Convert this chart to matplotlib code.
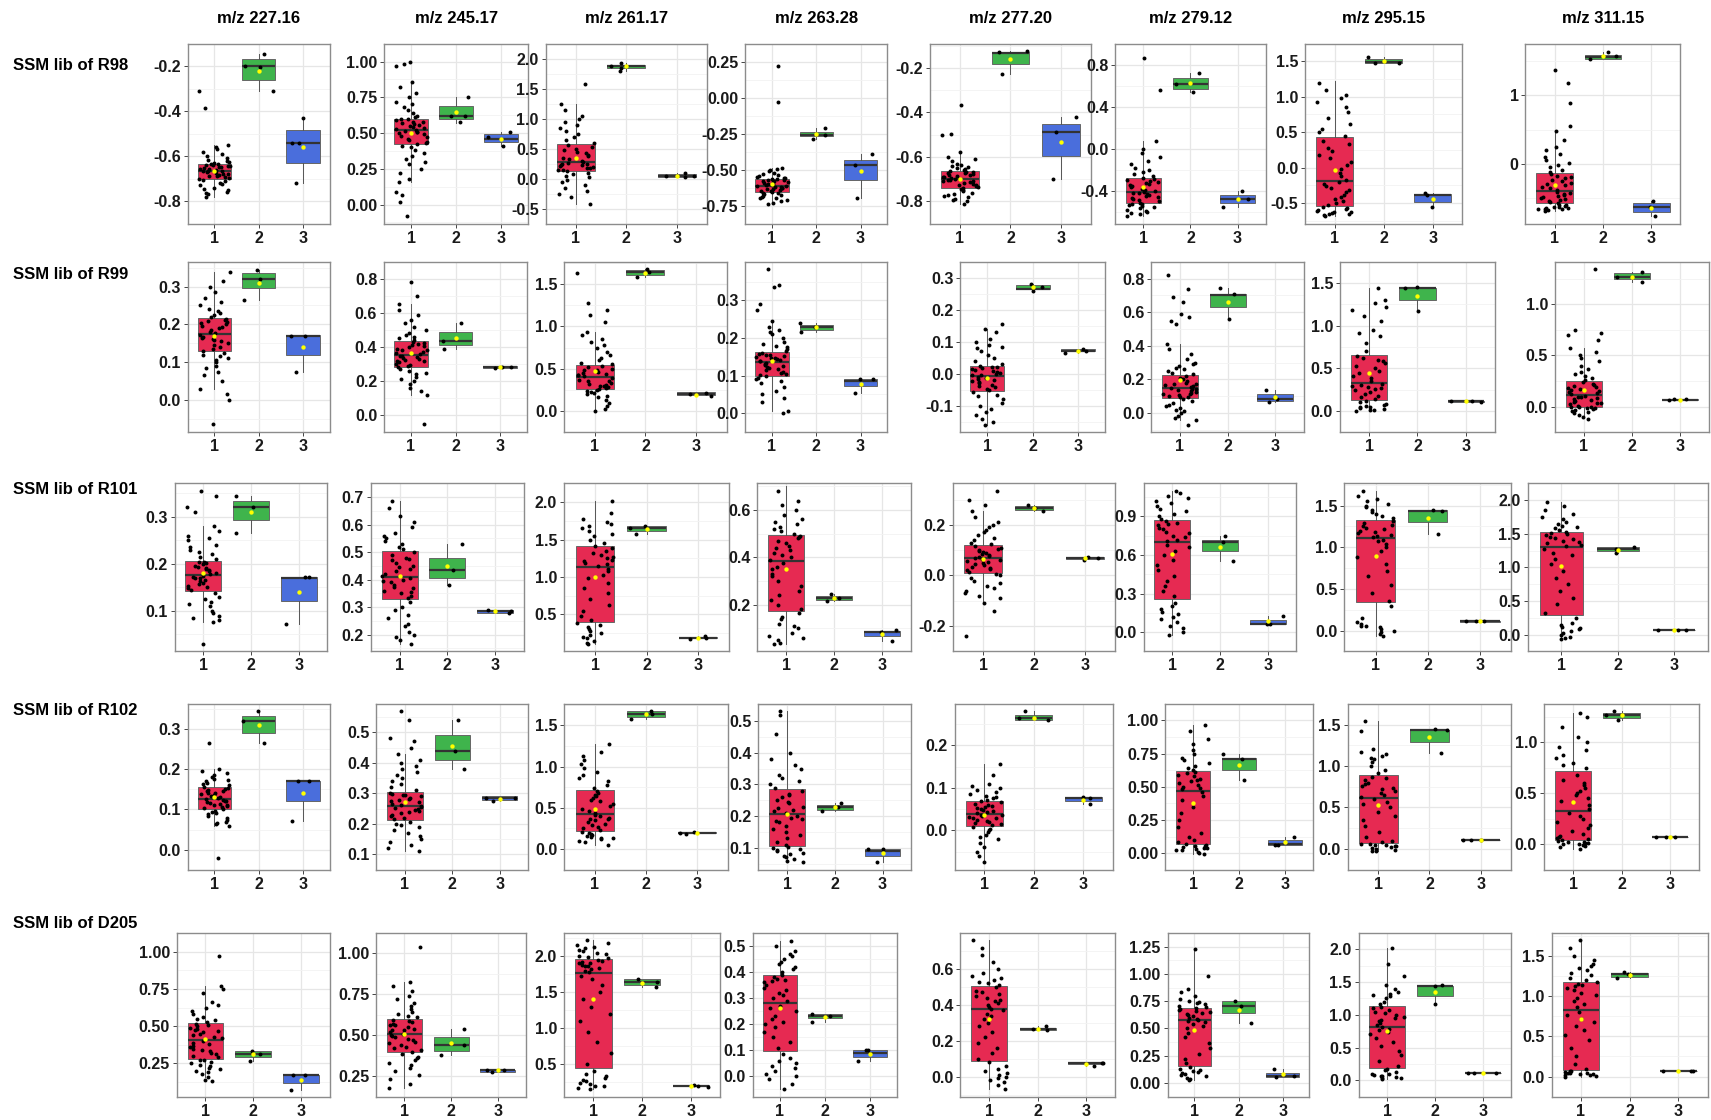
import numpy as np
import matplotlib
matplotlib.use("Agg")
import matplotlib.pyplot as plt

plt.rcParams['font.family'] = ['Liberation Sans Narrow', 'Liberation Sans', 'DejaVu Sans']

mz_labels = ["m/z 227.16", "m/z 245.17", "m/z 261.17", "m/z 263.28",
             "m/z 277.20", "m/z 279.12", "m/z 295.15", "m/z 311.15"]
libraries = ["SSM lib of R98", "SSM lib of R99", "SSM lib of R101", "SSM lib of R102", "SSM lib of D205"]
groups = [1, 2, 3]
fills = ['#E62A52', '#3FB44C', '#4A6EDC']

# ---- SSM lib of R98 ----
r98_g1 = [
    [-0.78, -0.77, -0.765, -0.76, -0.75, -0.745, -0.74, -0.73, -0.725, -0.72, -0.71, -0.705,
     -0.70, -0.697, -0.693, -0.69, -0.686, -0.683, -0.68, -0.677, -0.673, -0.67, -0.668, -0.666,
     -0.664, -0.66, -0.657, -0.655, -0.652, -0.65, -0.648, -0.645, -0.643, -0.64, -0.638, -0.636,
     -0.634, -0.63, -0.625, -0.62, -0.615, -0.61, -0.60, -0.59, -0.58, -0.57, -0.56, -0.55, -0.385, -0.31],
    [0.16, 0.18, 0.22, 0.25, 0.28, 0.30, 0.32, 0.34, 0.36, 0.38, 0.40, 0.41,
     0.42, 0.43, 0.44, 0.45, 0.46, 0.47, 0.48, 0.49, 0.50, 0.505, 0.51, 0.515,
     0.52, 0.53, 0.535, 0.54, 0.55, 0.555, 0.56, 0.57, 0.575, 0.58, 0.59, 0.595,
     0.60, 0.61, 0.62, 0.64, 0.66, 0.68, 0.70, 0.72, 0.75, 0.78, 0.82, 0.86,
     -0.08, 0.02, 0.07, 0.09, 0.97, 0.98, 1.0],
    [-0.42, -0.30, -0.25, -0.20, -0.15, -0.10, -0.05, -0.02, 0.02, 0.05, 0.08, 0.10,
     0.12, 0.14, 0.15, 0.17, 0.18, 0.20, 0.21, 0.22, 0.23, 0.24, 0.25, 0.26,
     0.28, 0.30, 0.32, 0.35, 0.38, 0.40, 0.43, 0.45, 0.48, 0.50, 0.53, 0.56,
     0.60, 0.65, 0.70, 0.75, 0.80, 0.85, 0.90, 0.95, 1.00, 1.05, 1.15, 1.25, 1.58],
    [-0.74, -0.73, -0.72, -0.71, -0.70, -0.695, -0.69, -0.68, -0.675, -0.67, -0.665, -0.66,
     -0.655, -0.65, -0.645, -0.64, -0.636, -0.632, -0.628, -0.624, -0.62, -0.617, -0.614, -0.612,
     -0.608, -0.605, -0.60, -0.596, -0.592, -0.588, -0.584, -0.58, -0.576, -0.572, -0.57, -0.567,
     -0.565, -0.56, -0.555, -0.55, -0.545, -0.54, -0.53, -0.52, -0.51, -0.50, -0.495, -0.49, -0.03, 0.22],
    [-0.81, -0.80, -0.795, -0.79, -0.78, -0.775, -0.77, -0.765, -0.76, -0.755, -0.75, -0.745,
     -0.74, -0.735, -0.73, -0.727, -0.724, -0.72, -0.717, -0.714, -0.71, -0.707, -0.704, -0.702,
     -0.698, -0.695, -0.692, -0.689, -0.686, -0.683, -0.68, -0.677, -0.674, -0.671, -0.668, -0.666,
     -0.664, -0.66, -0.655, -0.65, -0.645, -0.64, -0.635, -0.63, -0.62, -0.61, -0.60, -0.58,
     -0.50, -0.495, -0.365],
    [-0.64, -0.62, -0.61, -0.60, -0.59, -0.58, -0.57, -0.56, -0.55, -0.54, -0.53, -0.525,
     -0.515, -0.50, -0.49, -0.48, -0.47, -0.46, -0.45, -0.44, -0.43, -0.425, -0.42, -0.415,
     -0.40, -0.39, -0.38, -0.37, -0.36, -0.35, -0.34, -0.33, -0.32, -0.31, -0.30, -0.29,
     -0.275, -0.26, -0.24, -0.22, -0.20, -0.18, -0.15, -0.12, -0.08, -0.04, 0.0, 0.07, 0.56, 0.86],
    [-0.68, -0.67, -0.66, -0.65, -0.64, -0.63, -0.62, -0.61, -0.60, -0.58, -0.57, -0.55,
     -0.53, -0.50, -0.47, -0.44, -0.41, -0.38, -0.35, -0.32, -0.29, -0.26, -0.23, -0.21,
     -0.17, -0.12, -0.07, -0.02, 0.03, 0.08, 0.13, 0.18, 0.23, 0.28, 0.33, 0.38,
     0.45, 0.50, 0.55, 0.62, 0.70, 0.78, 0.85, 0.92, 0.98, 1.03, 1.10, 1.20],
    [-0.68, -0.67, -0.66, -0.655, -0.65, -0.64, -0.635, -0.63, -0.62, -0.61, -0.60, -0.59,
     -0.57, -0.555, -0.54, -0.525, -0.51, -0.495, -0.48, -0.465, -0.45, -0.435, -0.42, -0.405,
     -0.375, -0.35, -0.33, -0.31, -0.29, -0.27, -0.25, -0.23, -0.21, -0.19, -0.17, -0.15,
     -0.12, -0.09, -0.05, -0.02, 0.02, 0.05, 0.10, 0.15, 0.20, 0.25, 0.35, 0.48, 0.55, 0.89, 1.17, 1.36],
]
r98_g2 = [[-0.145, -0.20, -0.205, -0.31], [0.75, 0.62, 0.58, 0.62], [1.93, 1.87, 1.85, 1.80],
          [-0.21, -0.26, -0.29], [-0.125, -0.13, -0.225], [0.72, 0.62, 0.54],
          [1.56, 1.48, 1.48], [1.63, 1.57, 1.53]]
r98_g3 = [[-0.43, -0.54, -0.54, -0.72], [0.51, 0.47, 0.41], [0.09, 0.05, 0.02, 0.05],
          [-0.39, -0.47, -0.70], [-0.42, -0.49, -0.70], [-0.40, -0.48, -0.56],
          [-0.36, -0.39, -0.55], [-0.54, -0.63, -0.75]]
# (whisker low, Q1, median, Q3, whisker high, mean)
r98_g1_box = [(-0.78, -0.70, -0.665, -0.635, -0.55, -0.665), (0.16, 0.42, 0.52, 0.60, 0.86, 0.50),
              (-0.42, 0.12, 0.27, 0.58, 1.25, 0.35), (-0.74, -0.655, -0.61, -0.565, -0.49, -0.60),
              (-0.81, -0.74, -0.70, -0.665, -0.58, -0.70), (-0.64, -0.52, -0.41, -0.28, 0.07, -0.37),
              (-0.68, -0.54, -0.19, 0.43, 1.22, -0.035), (-0.68, -0.575, -0.39, -0.13, 0.48, -0.30)]
r98_g2_box = [(-0.31, -0.26, -0.20, -0.17, -0.145, -0.22), (0.57, 0.60, 0.62, 0.69, 0.75, 0.65),
              (1.80, 1.85, 1.87, 1.90, 1.93, 1.87), (-0.29, -0.265, -0.26, -0.24, -0.21, -0.255),
              (-0.225, -0.18, -0.135, -0.13, -0.125, -0.16), (0.54, 0.57, 0.62, 0.67, 0.72, 0.625),
              (1.47, 1.47, 1.49, 1.535, 1.56, 1.50), (1.53, 1.53, 1.56, 1.59, 1.63, 1.57)]
r98_g3_box = [(-0.72, -0.63, -0.54, -0.485, -0.43, -0.56), (0.41, 0.44, 0.46, 0.49, 0.51, 0.46),
              (0.02, 0.03, 0.05, 0.07, 0.09, 0.05), (-0.70, -0.57, -0.47, -0.43, -0.39, -0.51),
              (-0.70, -0.595, -0.49, -0.453, -0.42, -0.535), (-0.56, -0.52, -0.48, -0.44, -0.40, -0.48),
              (-0.55, -0.48, -0.39, -0.37, -0.36, -0.445), (-0.75, -0.70, -0.63, -0.575, -0.54, -0.64)]
r98_ticks = [[-0.8, -0.6, -0.4, -0.2], [0, 0.25, 0.5, 0.75, 1.0], [-0.5, 0, 0.5, 1.0, 1.5, 2.0],
             [-0.75, -0.5, -0.25, 0, 0.25], [-0.8, -0.6, -0.4, -0.2], [-0.4, 0, 0.4, 0.8],
             [-0.5, 0, 0.5, 1.0, 1.5], [0, 1]]

# ---- SSM lib of R99 ----
r99_g1 = [
    [0.03, 0.05, 0.065, 0.075, 0.085, 0.09, 0.10, 0.105, 0.11, 0.115, 0.12, 0.125,
     0.13, 0.135, 0.14, 0.145, 0.15, 0.155, 0.158, 0.16, 0.163, 0.166, 0.17, 0.172,
     0.178, 0.18, 0.185, 0.19, 0.193, 0.196, 0.20, 0.203, 0.206, 0.209, 0.212, 0.215,
     0.22, 0.225, 0.23, 0.235, 0.24, 0.25, 0.26, 0.27, 0.285, 0.30, 0.315, 0.34, -0.065, 0.0, 0.015],
    [0.12, 0.14, 0.16, 0.18, 0.20, 0.21, 0.225, 0.24, 0.25, 0.26, 0.27, 0.28,
     0.29, 0.295, 0.30, 0.31, 0.315, 0.32, 0.325, 0.33, 0.335, 0.34, 0.345, 0.35,
     0.36, 0.365, 0.37, 0.38, 0.385, 0.39, 0.40, 0.405, 0.41, 0.42, 0.425, 0.43,
     0.44, 0.45, 0.46, 0.47, 0.48, 0.50, 0.52, 0.54, 0.56, 0.59, 0.62, 0.65, -0.05, 0.70, 0.78],
    [0.0, 0.02, 0.06, 0.10, 0.13, 0.16, 0.18, 0.20, 0.21, 0.22, 0.235, 0.245,
     0.26, 0.27, 0.28, 0.29, 0.30, 0.31, 0.32, 0.33, 0.35, 0.36, 0.37, 0.39,
     0.41, 0.42, 0.43, 0.44, 0.45, 0.46, 0.47, 0.48, 0.49, 0.50, 0.52, 0.535,
     0.55, 0.57, 0.60, 0.63, 0.66, 0.70, 0.74, 0.78, 0.82, 0.85, 0.90, 0.93,
     1.05, 1.13, 1.20, 1.28, 1.63],
    [0.0, 0.007, 0.03, 0.04, 0.05, 0.06, 0.07, 0.08, 0.085, 0.09, 0.095, 0.098,
     0.102, 0.105, 0.108, 0.111, 0.114, 0.117, 0.12, 0.123, 0.126, 0.129, 0.132, 0.134,
     0.138, 0.14, 0.142, 0.144, 0.146, 0.148, 0.15, 0.152, 0.154, 0.156, 0.158, 0.16,
     0.165, 0.17, 0.175, 0.18, 0.185, 0.19, 0.20, 0.21, 0.215, 0.22, 0.23, 0.245,
     0.275, 0.29, 0.335, 0.34, 0.383],
    [-0.16, -0.15, -0.14, -0.13, -0.12, -0.11, -0.10, -0.09, -0.08, -0.07, -0.065, -0.058,
     -0.05, -0.046, -0.042, -0.038, -0.034, -0.03, -0.026, -0.022, -0.018, -0.015, -0.012, -0.009,
     -0.005, -0.002, 0.0, 0.003, 0.006, 0.009, 0.012, 0.015, 0.018, 0.02, 0.022, 0.025,
     0.03, 0.04, 0.05, 0.06, 0.07, 0.08, 0.085, 0.09, 0.10, 0.11, 0.13, 0.14, 0.155],
    [-0.045, -0.03, -0.02, 0.0, 0.01, 0.02, 0.03, 0.04, 0.05, 0.06, 0.07, 0.08,
     0.092, 0.095, 0.10, 0.105, 0.11, 0.115, 0.12, 0.125, 0.13, 0.135, 0.14, 0.145,
     0.15, 0.155, 0.16, 0.165, 0.17, 0.175, 0.18, 0.19, 0.20, 0.205, 0.21, 0.22,
     0.23, 0.24, 0.25, 0.26, 0.27, 0.28, 0.29, 0.30, 0.32, 0.35, 0.38, 0.41,
     -0.07, 0.53, 0.55, 0.57, 0.59, 0.66, 0.69, 0.74, 0.82],
    [0.0, 0.005, 0.01, 0.02, 0.03, 0.04, 0.05, 0.06, 0.07, 0.08, 0.10, 0.12,
     0.14, 0.16, 0.18, 0.20, 0.22, 0.24, 0.26, 0.27, 0.28, 0.29, 0.30, 0.32,
     0.35, 0.38, 0.41, 0.44, 0.47, 0.50, 0.53, 0.56, 0.58, 0.60, 0.62, 0.64,
     0.70, 0.80, 0.88, 0.92, 0.95, 1.05, 1.12, 1.18, 1.22, 1.27, 1.30, 1.44],
    [-0.10, -0.08, -0.06, -0.05, -0.04, -0.03, -0.02, -0.015, -0.01, -0.005, 0.0, 0.0,
     0.01, 0.02, 0.03, 0.035, 0.04, 0.05, 0.06, 0.07, 0.08, 0.09, 0.095, 0.10,
     0.12, 0.13, 0.14, 0.15, 0.16, 0.17, 0.18, 0.19, 0.20, 0.21, 0.22, 0.24,
     0.26, 0.28, 0.30, 0.32, 0.34, 0.37, 0.40, 0.44, 0.47, 0.50, 0.53, 0.57,
     -0.12, 0.65, 0.70, 0.72, 0.75, 1.34],
]
r99_g2 = [[0.345, 0.32, 0.265], [0.54, 0.435, 0.39], [1.68, 1.64, 1.58], [0.24, 0.228, 0.215],
          [0.28, 0.27, 0.26], [0.745, 0.71, 0.56], [1.45, 1.44, 1.17], [1.31, 1.27, 1.22]]
r99_g3 = [[0.17, 0.17, 0.075], [0.285, 0.28, 0.275], [0.21, 0.20, 0.18], [0.092, 0.09, 0.055],
          [0.078, 0.072, 0.065], [0.135, 0.08, 0.065], [0.12, 0.11, 0.10], [0.07, 0.065, 0.07]]
r99_g1_box = [(0.03, 0.13, 0.175, 0.217, 0.34, 0.168), (0.12, 0.285, 0.355, 0.437, 0.65, 0.367),
              (0.02, 0.255, 0.40, 0.54, 0.93, 0.47), (0.007, 0.10, 0.136, 0.162, 0.245, 0.138),
              (-0.16, -0.053, -0.007, 0.026, 0.14, -0.012), (-0.045, 0.09, 0.147, 0.225, 0.41, 0.196),
              (0.0, 0.13, 0.33, 0.66, 1.44, 0.45), (-0.10, 0.0, 0.11, 0.25, 0.57, 0.165)]
r99_g2_box = [(0.265, 0.295, 0.32, 0.337, 0.345, 0.31), (0.39, 0.41, 0.435, 0.49, 0.54, 0.455),
              (1.58, 1.605, 1.64, 1.67, 1.68, 1.635), (0.215, 0.22, 0.228, 0.235, 0.24, 0.228),
              (0.26, 0.265, 0.265, 0.278, 0.28, 0.27), (0.56, 0.63, 0.70, 0.71, 0.745, 0.66),
              (1.17, 1.305, 1.44, 1.445, 1.45, 1.35), (1.22, 1.245, 1.27, 1.30, 1.31, 1.27)]
r99_g3_box = [(0.075, 0.12, 0.17, 0.172, 0.172, 0.14), (0.275, 0.277, 0.28, 0.29, 0.29, 0.28),
              (0.18, 0.19, 0.20, 0.22, 0.22, 0.195), (0.055, 0.072, 0.085, 0.091, 0.092, 0.078),
              (0.065, 0.07, 0.072, 0.077, 0.078, 0.072), (0.065, 0.07, 0.08, 0.11, 0.135, 0.093),
              (0.10, 0.105, 0.11, 0.115, 0.12, 0.11), (0.065, 0.066, 0.068, 0.07, 0.07, 0.068)]
r99_ticks = [[0, 0.1, 0.2, 0.3], [0, 0.2, 0.4, 0.6, 0.8], [0, 0.5, 1.0, 1.5], [0, 0.1, 0.2, 0.3],
             [-0.1, 0, 0.1, 0.2, 0.3], [0, 0.2, 0.4, 0.6, 0.8], [0, 0.5, 1.0, 1.5], [0, 0.5, 1.0]]

# ---- SSM lib of R101 ----
r101_g1 = [
    [0.076, 0.08, 0.085, 0.09, 0.095, 0.10, 0.11, 0.115, 0.12, 0.125, 0.13, 0.138,
     0.145, 0.148, 0.151, 0.154, 0.157, 0.16, 0.163, 0.166, 0.169, 0.171, 0.173, 0.175,
     0.179, 0.181, 0.184, 0.186, 0.189, 0.191, 0.194, 0.196, 0.199, 0.201, 0.203, 0.205,
     0.21, 0.215, 0.22, 0.225, 0.23, 0.235, 0.24, 0.25, 0.255, 0.26, 0.27, 0.28,
     0.03, 0.31, 0.32, 0.345, 0.355],
    [0.165, 0.18, 0.19, 0.20, 0.21, 0.23, 0.24, 0.26, 0.27, 0.29, 0.30, 0.32,
     0.335, 0.34, 0.35, 0.355, 0.36, 0.37, 0.375, 0.38, 0.39, 0.395, 0.40, 0.405,
     0.415, 0.42, 0.43, 0.44, 0.445, 0.45, 0.46, 0.47, 0.475, 0.48, 0.49, 0.50,
     0.51, 0.52, 0.53, 0.54, 0.55, 0.56, 0.57, 0.59, 0.61, 0.63, 0.66, 0.685],
    [0.10, 0.12, 0.15, 0.18, 0.20, 0.22, 0.25, 0.28, 0.30, 0.33, 0.36, 0.38,
     0.42, 0.48, 0.55, 0.62, 0.70, 0.78, 0.85, 0.92, 0.98, 1.03, 1.08, 1.11,
     1.15, 1.17, 1.19, 1.21, 1.23, 1.25, 1.27, 1.29, 1.32, 1.35, 1.38, 1.41,
     1.45, 1.50, 1.55, 1.58, 1.62, 1.65, 1.68, 1.71, 1.74, 1.77, 1.85, 2.02],
    [0.035, 0.04, 0.05, 0.06, 0.07, 0.08, 0.10, 0.11, 0.12, 0.14, 0.15, 0.165,
     0.18, 0.20, 0.22, 0.24, 0.26, 0.28, 0.30, 0.32, 0.33, 0.35, 0.36, 0.375,
     0.39, 0.40, 0.41, 0.42, 0.43, 0.44, 0.45, 0.46, 0.47, 0.48, 0.485, 0.49,
     0.50, 0.51, 0.52, 0.53, 0.54, 0.55, 0.56, 0.58, 0.60, 0.62, 0.64, 0.68],
    [-0.11, -0.09, -0.08, -0.07, -0.06, -0.05, -0.04, -0.03, -0.02, -0.01, 0.0, 0.005,
     0.015, 0.02, 0.025, 0.03, 0.035, 0.04, 0.045, 0.05, 0.055, 0.058, 0.062, 0.065,
     0.07, 0.074, 0.078, 0.082, 0.086, 0.09, 0.094, 0.098, 0.102, 0.106, 0.11, 0.115,
     0.125, 0.13, 0.14, 0.15, 0.16, 0.17, 0.18, 0.19, 0.20, 0.21, 0.23, 0.255,
     -0.24, -0.14, 0.28, 0.30, 0.335],
    [-0.02, 0.0, 0.03, 0.05, 0.08, 0.10, 0.12, 0.14, 0.16, 0.18, 0.20, 0.23,
     0.28, 0.32, 0.36, 0.40, 0.44, 0.48, 0.52, 0.56, 0.60, 0.63, 0.66, 0.68,
     0.71, 0.72, 0.74, 0.75, 0.77, 0.78, 0.80, 0.81, 0.83, 0.84, 0.85, 0.86,
     0.88, 0.90, 0.92, 0.94, 0.96, 0.98, 1.00, 1.02, 1.04, 1.06, 1.08, 1.10],
    [-0.06, -0.04, -0.02, 0.0, 0.02, 0.04, 0.05, 0.06, 0.08, 0.10, 0.15, 0.30,
     0.35, 0.45, 0.55, 0.65, 0.72, 0.80, 0.88, 0.95, 1.00, 1.04, 1.07, 1.09,
     1.12, 1.14, 1.15, 1.17, 1.18, 1.20, 1.22, 1.23, 1.25, 1.27, 1.29, 1.31,
     1.35, 1.38, 1.40, 1.42, 1.45, 1.48, 1.50, 1.52, 1.55, 1.58, 1.62, 1.68],
    [-0.07, -0.05, -0.03, 0.0, 0.02, 0.05, 0.08, 0.10, 0.12, 0.14, 0.18, 0.25,
     0.32, 0.45, 0.55, 0.65, 0.75, 0.85, 0.95, 1.05, 1.12, 1.18, 1.22, 1.27,
     1.32, 1.34, 1.36, 1.38, 1.40, 1.42, 1.44, 1.46, 1.48, 1.50, 1.51, 1.52,
     1.55, 1.58, 1.60, 1.62, 1.65, 1.68, 1.72, 1.75, 1.80, 1.85, 1.92, 1.98],
]
r101_g2 = [[0.345, 0.32, 0.265], [0.53, 0.435, 0.38], [1.68, 1.65, 1.57], [0.245, 0.23, 0.215],
           [0.28, 0.265, 0.255], [0.75, 0.70, 0.55], [1.45, 1.44, 1.16], [1.30, 1.27, 1.21]]
r101_g3 = [[0.172, 0.172, 0.072], [0.29, 0.285, 0.28], [0.21, 0.19, 0.17], [0.095, 0.085, 0.045],
           [0.075, 0.07, 0.06], [0.125, 0.065, 0.06], [0.11, 0.11, 0.11], [0.07, 0.07, 0.07]]
r101_g1_box = [(0.076, 0.143, 0.177, 0.207, 0.28, 0.18), (0.165, 0.33, 0.41, 0.505, 0.685, 0.415),
               (0.10, 0.40, 1.13, 1.42, 2.02, 1.0), (0.035, 0.175, 0.385, 0.495, 0.70, 0.35),
               (-0.11, 0.01, 0.068, 0.12, 0.255, 0.064), (-0.02, 0.26, 0.70, 0.87, 1.10, 0.61),
               (-0.06, 0.34, 1.11, 1.33, 1.68, 0.90), (-0.07, 0.29, 1.30, 1.53, 1.98, 1.02)]
r101_g2_box = [(0.265, 0.293, 0.32, 0.333, 0.345, 0.31), (0.38, 0.405, 0.435, 0.48, 0.53, 0.45),
               (1.57, 1.62, 1.65, 1.68, 1.68, 1.64), (0.215, 0.22, 0.228, 0.235, 0.245, 0.23),
               (0.255, 0.26, 0.265, 0.275, 0.28, 0.265), (0.55, 0.63, 0.70, 0.72, 0.75, 0.665),
               (1.16, 1.30, 1.44, 1.445, 1.45, 1.35), (1.21, 1.25, 1.27, 1.30, 1.30, 1.26)]
r101_g3_box = [(0.072, 0.122, 0.17, 0.172, 0.172, 0.14), (0.28, 0.28, 0.285, 0.29, 0.29, 0.285),
               (0.17, 0.18, 0.19, 0.20, 0.21, 0.19), (0.045, 0.066, 0.085, 0.09, 0.095, 0.077),
               (0.06, 0.065, 0.07, 0.075, 0.075, 0.07), (0.06, 0.062, 0.065, 0.095, 0.125, 0.085),
               (0.11, 0.107, 0.11, 0.113, 0.11, 0.11), (0.07, 0.067, 0.07, 0.073, 0.07, 0.07)]
r101_ticks = [[0.1, 0.2, 0.3], [0.2, 0.3, 0.4, 0.5, 0.6, 0.7], [0.5, 1.0, 1.5, 2.0], [0.2, 0.4, 0.6],
              [-0.2, 0, 0.2], [0, 0.3, 0.6, 0.9], [0, 0.5, 1.0, 1.5], [0, 0.5, 1.0, 1.5, 2.0]]

# ---- SSM lib of R102 ----
r102_g1 = [
    [0.06, 0.063, 0.066, 0.07, 0.075, 0.08, 0.085, 0.088, 0.091, 0.094, 0.097, 0.10,
     0.104, 0.106, 0.108, 0.11, 0.112, 0.114, 0.116, 0.118, 0.12, 0.122, 0.124, 0.126,
     0.129, 0.131, 0.133, 0.136, 0.138, 0.14, 0.142, 0.145, 0.147, 0.149, 0.151, 0.153,
     0.157, 0.16, 0.163, 0.166, 0.17, 0.173, 0.176, 0.18, 0.185, 0.19, 0.195, 0.20, -0.02, 0.265],
    [0.11, 0.12, 0.13, 0.14, 0.15, 0.16, 0.17, 0.18, 0.19, 0.195, 0.20, 0.205,
     0.215, 0.22, 0.225, 0.23, 0.235, 0.238, 0.241, 0.245, 0.248, 0.251, 0.254, 0.257,
     0.263, 0.266, 0.27, 0.274, 0.278, 0.282, 0.286, 0.29, 0.293, 0.296, 0.299, 0.302,
     0.31, 0.32, 0.33, 0.34, 0.35, 0.36, 0.37, 0.38, 0.39, 0.40, 0.41, 0.43,
     0.45, 0.47, 0.48, 0.54, 0.57],
    [0.05, 0.08, 0.10, 0.12, 0.13, 0.14, 0.15, 0.16, 0.17, 0.18, 0.19, 0.21,
     0.23, 0.25, 0.27, 0.29, 0.31, 0.33, 0.35, 0.36, 0.37, 0.38, 0.40, 0.41,
     0.44, 0.46, 0.49, 0.52, 0.55, 0.58, 0.60, 0.62, 0.64, 0.66, 0.68, 0.70,
     0.74, 0.78, 0.82, 0.86, 0.90, 0.94, 0.98, 1.03, 1.08, 1.13, 1.18, 1.27],
    [0.055, 0.06, 0.065, 0.07, 0.075, 0.08, 0.085, 0.09, 0.093, 0.096, 0.10, 0.104,
     0.11, 0.12, 0.13, 0.14, 0.15, 0.16, 0.17, 0.18, 0.185, 0.19, 0.195, 0.20,
     0.21, 0.215, 0.22, 0.225, 0.23, 0.24, 0.245, 0.25, 0.26, 0.265, 0.27, 0.28,
     0.29, 0.30, 0.31, 0.32, 0.33, 0.35, 0.36, 0.38, 0.40, 0.46, 0.52, 0.53],
    [-0.075, -0.06, -0.05, -0.04, -0.03, -0.02, -0.015, -0.01, -0.005, 0.0, 0.004, 0.008,
     0.012, 0.015, 0.018, 0.02, 0.023, 0.025, 0.028, 0.03, 0.032, 0.034, 0.036, 0.037,
     0.04, 0.042, 0.045, 0.047, 0.05, 0.052, 0.055, 0.057, 0.06, 0.063, 0.066, 0.068,
     0.072, 0.075, 0.078, 0.08, 0.085, 0.09, 0.095, 0.10, 0.105, 0.11, 0.13, 0.155],
    [-0.01, 0.0, 0.01, 0.02, 0.025, 0.03, 0.035, 0.04, 0.045, 0.05, 0.055, 0.06,
     0.07, 0.08, 0.10, 0.12, 0.15, 0.20, 0.25, 0.30, 0.35, 0.40, 0.43, 0.46,
     0.48, 0.49, 0.50, 0.51, 0.53, 0.54, 0.55, 0.56, 0.58, 0.59, 0.60, 0.61,
     0.63, 0.64, 0.66, 0.68, 0.70, 0.72, 0.75, 0.78, 0.82, 0.86, 0.92, 0.965],
    [-0.03, -0.02, -0.01, 0.0, 0.01, 0.02, 0.03, 0.04, 0.045, 0.05, 0.06, 0.065,
     0.08, 0.10, 0.15, 0.20, 0.28, 0.35, 0.40, 0.45, 0.50, 0.54, 0.57, 0.60,
     0.63, 0.65, 0.68, 0.70, 0.72, 0.74, 0.76, 0.78, 0.80, 0.83, 0.85, 0.87,
     0.92, 0.95, 1.00, 1.05, 1.08, 1.10, 1.12, 1.15, 1.17, 1.20, 1.42, 1.54],
    [-0.045, -0.03, -0.02, -0.01, 0.0, 0.005, 0.01, 0.015, 0.02, 0.025, 0.03, 0.04,
     0.05, 0.06, 0.07, 0.08, 0.10, 0.13, 0.16, 0.19, 0.22, 0.25, 0.28, 0.31,
     0.35, 0.38, 0.42, 0.45, 0.48, 0.50, 0.52, 0.55, 0.58, 0.60, 0.63, 0.68,
     0.75, 0.78, 0.80, 0.85, 0.88, 0.92, 0.95, 1.00, 1.05, 1.15, 1.25, 1.29],
]
r102_g2 = [[0.345, 0.32, 0.265], [0.54, 0.44, 0.38], [1.68, 1.64, 1.58], [0.24, 0.23, 0.215],
           [0.28, 0.265, 0.26], [0.75, 0.71, 0.55], [1.45, 1.44, 1.16], [1.31, 1.27, 1.22]]
r102_g3 = [[0.172, 0.172, 0.072], [0.285, 0.285, 0.275], [0.21, 0.20, 0.18], [0.095, 0.095, 0.055],
           [0.078, 0.075, 0.062], [0.125, 0.06, 0.06], [0.11, 0.11, 0.11], [0.07, 0.07, 0.07]]
r102_g1_box = [(0.06, 0.102, 0.127, 0.155, 0.20, 0.13), (0.11, 0.212, 0.26, 0.305, 0.43, 0.27),
               (0.05, 0.22, 0.42, 0.72, 1.27, 0.49), (0.055, 0.107, 0.207, 0.285, 0.53, 0.207),
               (-0.075, 0.01, 0.038, 0.07, 0.155, 0.037), (-0.01, 0.067, 0.47, 0.62, 0.965, 0.375),
               (-0.03, 0.07, 0.61, 0.89, 1.54, 0.535), (-0.045, 0.045, 0.33, 0.72, 1.29, 0.415)]
r102_g2_box = [(0.265, 0.29, 0.32, 0.333, 0.345, 0.31), (0.38, 0.41, 0.44, 0.49, 0.54, 0.455),
               (1.58, 1.60, 1.64, 1.67, 1.68, 1.635), (0.215, 0.22, 0.228, 0.235, 0.24, 0.228),
               (0.26, 0.26, 0.265, 0.272, 0.28, 0.265), (0.55, 0.63, 0.71, 0.72, 0.75, 0.665),
               (1.16, 1.29, 1.44, 1.44, 1.45, 1.35), (1.22, 1.24, 1.27, 1.29, 1.31, 1.27)]
r102_g3_box = [(0.072, 0.12, 0.17, 0.172, 0.172, 0.14), (0.275, 0.278, 0.285, 0.29, 0.29, 0.28),
               (0.18, 0.19, 0.20, 0.21, 0.21, 0.20), (0.055, 0.073, 0.09, 0.095, 0.095, 0.085),
               (0.062, 0.07, 0.075, 0.078, 0.078, 0.072), (0.06, 0.06, 0.065, 0.095, 0.125, 0.085),
               (0.11, 0.107, 0.11, 0.113, 0.11, 0.11), (0.07, 0.067, 0.07, 0.073, 0.07, 0.07)]
r102_ticks = [[0, 0.1, 0.2, 0.3], [0.1, 0.2, 0.3, 0.4, 0.5], [0, 0.5, 1.0, 1.5], [0.1, 0.2, 0.3, 0.4, 0.5],
              [0, 0.1, 0.2], [0, 0.25, 0.5, 0.75, 1.0], [0, 0.5, 1.0, 1.5], [0, 0.5, 1.0]]

# ---- SSM lib of D205 ----
d205_g1 = [
    [0.16, 0.18, 0.19, 0.20, 0.21, 0.22, 0.23, 0.24, 0.25, 0.26, 0.27, 0.275,
     0.29, 0.30, 0.31, 0.32, 0.33, 0.34, 0.35, 0.36, 0.37, 0.38, 0.39, 0.40,
     0.42, 0.43, 0.44, 0.45, 0.46, 0.47, 0.475, 0.48, 0.49, 0.50, 0.51, 0.515,
     0.53, 0.54, 0.55, 0.56, 0.58, 0.60, 0.62, 0.64, 0.66, 0.72, 0.75, 0.77, 0.13, 0.14, 0.97],
    [0.18, 0.20, 0.23, 0.26, 0.28, 0.30, 0.32, 0.33, 0.35, 0.36, 0.37, 0.385,
     0.40, 0.41, 0.42, 0.43, 0.44, 0.45, 0.46, 0.47, 0.48, 0.49, 0.495, 0.50,
     0.51, 0.52, 0.53, 0.535, 0.54, 0.55, 0.56, 0.565, 0.57, 0.58, 0.59, 0.595,
     0.61, 0.62, 0.63, 0.64, 0.66, 0.68, 0.70, 0.72, 0.74, 0.77, 0.80, 0.825, 1.04],
    [0.15, 0.17, 0.19, 0.20, 0.22, 0.24, 0.26, 0.28, 0.30, 0.33, 0.36, 0.40,
     0.50, 0.65, 0.80, 0.95, 1.10, 1.20, 1.30, 1.40, 1.50, 1.60, 1.68, 1.73,
     1.78, 1.80, 1.82, 1.84, 1.86, 1.87, 1.88, 1.90, 1.91, 1.92, 1.93, 1.95,
     1.97, 1.99, 2.01, 2.03, 2.05, 2.07, 2.09, 2.11, 2.13, 2.15, 2.18, 2.22],
    [-0.05, -0.03, -0.01, 0.0, 0.01, 0.02, 0.03, 0.04, 0.05, 0.06, 0.07, 0.085,
     0.11, 0.13, 0.15, 0.17, 0.19, 0.20, 0.21, 0.22, 0.23, 0.25, 0.26, 0.27,
     0.29, 0.30, 0.31, 0.32, 0.33, 0.34, 0.35, 0.36, 0.365, 0.37, 0.375, 0.38,
     0.39, 0.40, 0.41, 0.42, 0.43, 0.44, 0.45, 0.46, 0.47, 0.48, 0.50, 0.52],
    [-0.07, -0.045, -0.03, -0.02, -0.01, 0.0, 0.01, 0.02, 0.03, 0.04, 0.06, 0.08,
     0.10, 0.13, 0.16, 0.19, 0.22, 0.25, 0.28, 0.30, 0.32, 0.34, 0.35, 0.37,
     0.38, 0.39, 0.40, 0.41, 0.42, 0.43, 0.44, 0.45, 0.46, 0.47, 0.48, 0.50,
     0.51, 0.52, 0.53, 0.54, 0.55, 0.56, 0.58, 0.60, 0.64, 0.68, 0.72, 0.76],
    [0.03, 0.04, 0.05, 0.06, 0.07, 0.08, 0.09, 0.10, 0.11, 0.12, 0.13, 0.15,
     0.18, 0.22, 0.27, 0.32, 0.37, 0.42, 0.46, 0.50, 0.52, 0.54, 0.56, 0.57,
     0.58, 0.59, 0.60, 0.61, 0.62, 0.63, 0.64, 0.65, 0.66, 0.67, 0.68, 0.685,
     0.70, 0.71, 0.72, 0.73, 0.74, 0.75, 0.77, 0.80, 0.83, 0.86, 0.98, 1.23],
    [0.02, 0.03, 0.04, 0.05, 0.06, 0.07, 0.08, 0.09, 0.10, 0.12, 0.15, 0.18,
     0.22, 0.30, 0.38, 0.45, 0.52, 0.58, 0.64, 0.70, 0.74, 0.77, 0.79, 0.81,
     0.84, 0.87, 0.90, 0.92, 0.95, 0.97, 1.00, 1.03, 1.05, 1.08, 1.10, 1.12,
     1.16, 1.20, 1.25, 1.28, 1.30, 1.32, 1.35, 1.40, 1.45, 1.60, 1.78, 2.02],
    [0.0, 0.01, 0.02, 0.025, 0.03, 0.035, 0.04, 0.045, 0.05, 0.06, 0.065, 0.07,
     0.10, 0.15, 0.25, 0.35, 0.45, 0.52, 0.58, 0.63, 0.68, 0.72, 0.76, 0.80,
     0.86, 0.90, 0.94, 0.98, 1.01, 1.04, 1.07, 1.10, 1.12, 1.14, 1.15, 1.17,
     1.20, 1.23, 1.26, 1.29, 1.32, 1.35, 1.38, 1.40, 1.45, 1.50, 1.60, 1.70],
]
d205_g2 = [[0.335, 0.31, 0.265], [0.54, 0.44, 0.38], [1.68, 1.64, 1.57], [0.24, 0.23, 0.21],
           [0.28, 0.265, 0.26], [0.75, 0.71, 0.55], [1.45, 1.44, 1.16], [1.30, 1.27, 1.22]]
d205_g3 = [[0.172, 0.17, 0.072], [0.285, 0.285, 0.275], [0.21, 0.20, 0.18], [0.10, 0.10, 0.06],
           [0.075, 0.075, 0.06], [0.125, 0.06, 0.055], [0.11, 0.11, 0.11], [0.07, 0.07, 0.07]]
d205_g1_box = [(0.16, 0.28, 0.41, 0.52, 0.77, 0.413), (0.18, 0.395, 0.505, 0.60, 0.825, 0.505),
               (0.15, 0.445, 1.76, 1.96, 2.22, 1.40), (-0.05, 0.098, 0.28, 0.387, 0.52, 0.26),
               (-0.07, 0.087, 0.375, 0.505, 0.76, 0.32), (0.03, 0.16, 0.575, 0.69, 1.23, 0.485),
               (0.02, 0.19, 0.82, 1.14, 2.02, 0.76), (0.0, 0.08, 0.83, 1.18, 1.70, 0.72)]
d205_g2_box = [(0.265, 0.29, 0.31, 0.335, 0.335, 0.31), (0.38, 0.405, 0.44, 0.49, 0.54, 0.455),
               (1.57, 1.60, 1.64, 1.68, 1.68, 1.63), (0.21, 0.225, 0.23, 0.24, 0.24, 0.228),
               (0.26, 0.26, 0.265, 0.27, 0.28, 0.265), (0.55, 0.64, 0.71, 0.75, 0.75, 0.67),
               (1.16, 1.29, 1.44, 1.44, 1.45, 1.35), (1.22, 1.24, 1.27, 1.29, 1.30, 1.26)]
d205_g3_box = [(0.072, 0.12, 0.17, 0.172, 0.172, 0.14), (0.275, 0.278, 0.285, 0.29, 0.29, 0.285),
               (0.18, 0.19, 0.20, 0.21, 0.21, 0.20), (0.06, 0.075, 0.09, 0.10, 0.10, 0.085),
               (0.06, 0.07, 0.075, 0.078, 0.078, 0.072), (0.055, 0.058, 0.065, 0.09, 0.125, 0.08),
               (0.11, 0.107, 0.11, 0.113, 0.11, 0.11), (0.07, 0.067, 0.07, 0.073, 0.07, 0.07)]
d205_ticks = [[0.25, 0.5, 0.75, 1.0], [0.25, 0.5, 0.75, 1.0], [0.5, 1.0, 1.5, 2.0], [0, 0.1, 0.2, 0.3, 0.4, 0.5],
              [0, 0.2, 0.4, 0.6], [0, 0.25, 0.5, 0.75, 1.0, 1.25], [0, 0.5, 1.0, 1.5, 2.0], [0, 0.5, 1.0, 1.5]]

rows = [
    (r98_g1, r98_g2, r98_g3, r98_g1_box, r98_g2_box, r98_g3_box, r98_ticks),
    (r99_g1, r99_g2, r99_g3, r99_g1_box, r99_g2_box, r99_g3_box, r99_ticks),
    (r101_g1, r101_g2, r101_g3, r101_g1_box, r101_g2_box, r101_g3_box, r101_ticks),
    (r102_g1, r102_g2, r102_g3, r102_g1_box, r102_g2_box, r102_g3_box, r102_ticks),
    (d205_g1, d205_g2, d205_g3, d205_g1_box, d205_g2_box, d205_g3_box, d205_ticks),
]

# panel frames in pixels of a 1568-wide sheet, scaled to the output size below
row_tb = [(40, 205), (240, 396), (443, 597), (645, 797), (855, 1005)]
row_left = [[172, 352, 500, 683, 852, 1022, 1196, 1398],
            [172, 352, 517, 683, 880, 1055, 1228, 1425],
            [160, 340, 517, 694, 873, 1048, 1232, 1400],
            [172, 345, 517, 695, 875, 1068, 1235, 1415],
            [162, 345, 517, 690, 880, 1070, 1245, 1422]]
row_right = [[302, 484, 648, 813, 1000, 1160, 1340, 1540],
             [302, 483, 666, 813, 1013, 1195, 1370, 1566],
             [300, 480, 668, 835, 1022, 1188, 1385, 1565],
             [302, 484, 667, 835, 1020, 1203, 1385, 1557],
             [302, 482, 660, 822, 1022, 1200, 1385, 1565]]
label_y = [60, 252, 449, 651, 846]
header_x = [237, 418, 574, 748, 926, 1091, 1268, 1469]

W, H = 1711, 1120
S = W / 1568.0


def tick_text(ticks):
    dec = max(len(repr(float(t)).split('.')[1].rstrip('0')) for t in ticks)
    return [f"{t:.{dec}f}" for t in ticks]


def jitter(n, phase):
    # scrambled but repeatable horizontal offsets, +-0.36 around the group centre
    i = np.arange(1, n + 1)
    u = (np.sin(i * 12.9898 + phase * 78.233) * 43758.5453) % 1.0
    return (u - 0.5) * 0.72


def draw_panel(ax, point_sets, box_sets, ticks, phase):
    stats = []
    for lo, q1, med, q3, hi, mean in box_sets:
        stats.append(dict(whislo=lo, q1=q1, med=med, q3=q3, whishi=hi, mean=mean, fliers=[]))
    bp = ax.bxp(stats, positions=groups, widths=0.75, patch_artist=True,
                showfliers=False, showcaps=False, showmeans=False,
                boxprops=dict(linewidth=0.7, edgecolor='#666666'),
                whiskerprops=dict(linewidth=0.7, color='#555555'),
                medianprops=dict(linewidth=1.6, color='#333333'))
    for patch, c in zip(bp['boxes'], fills):
        patch.set_facecolor(c)
    for k, vals in enumerate(point_sets):
        xs = groups[k] + jitter(len(vals), phase + 0.37 * k)
        ax.scatter(xs, vals, s=8, color='black', linewidths=0, zorder=3)
    ax.scatter(groups, [b[5] for b in box_sets], s=10, color='#FFFF00', linewidths=0, zorder=4)

    allv = np.concatenate([np.asarray(v, float) for v in point_sets])
    lo, hi = allv.min(), allv.max()
    pad = (hi - lo) * 0.05
    ax.set_ylim(lo - pad, hi + pad)
    ax.set_xlim(0.4, 3.6)

    step = ticks[1] - ticks[0]
    minor = [ticks[0] - step / 2] + [(a + b) / 2 for a, b in zip(ticks[:-1], ticks[1:])] + [ticks[-1] + step / 2]
    ax.set_yticks(ticks)
    ax.set_yticklabels(tick_text(ticks))
    ax.set_yticks(minor, minor=True)
    ax.set_xticks(groups)
    ax.set_xticklabels([str(g) for g in groups])
    ax.set_axisbelow(True)
    ax.grid(which='major', color='#E6E6E6', linewidth=0.9)
    ax.grid(which='minor', axis='y', color='#F2F2F2', linewidth=0.6)
    ax.tick_params(which='major', length=3, width=0.7, color='#444444', pad=2,
                   labelsize=11.5, labelcolor='#1a1a1a')
    ax.tick_params(which='minor', length=0)
    for lab in ax.get_xticklabels() + ax.get_yticklabels():
        lab.set_fontweight('bold')
    for sp in ax.spines.values():
        sp.set_color('#8c8c8c')
        sp.set_linewidth(1.0)


fig = plt.figure(figsize=(W / 100, H / 100), dpi=100)
fig.patch.set_facecolor('white')

for r, (g1, g2, g3, b1, b2, b3, tks) in enumerate(rows):
    top, bot = row_tb[r]
    for c in range(8):
        l, rr = row_left[r][c] * S, row_right[r][c] * S
        t, b = top * S, bot * S
        ax = fig.add_axes([l / W, 1 - b / H, (rr - l) / W, (b - t) / H])
        draw_panel(ax, [g1[c], g2[c], g3[c]], [b1[c], b2[c], b3[c]], tks[c], 0.071 * (r * 8 + c) + 0.3)
    fig.text(12 * S / W, 1 - label_y[r] * S / H, libraries[r], fontsize=12, fontweight='bold',
             ha='left', va='center')

for c in range(8):
    fig.text(header_x[c] * S / W, 1 - 17 * S / H, mz_labels[c], fontsize=12, fontweight='bold',
             ha='center', va='center')

fig.savefig('out.png', dpi=100)
